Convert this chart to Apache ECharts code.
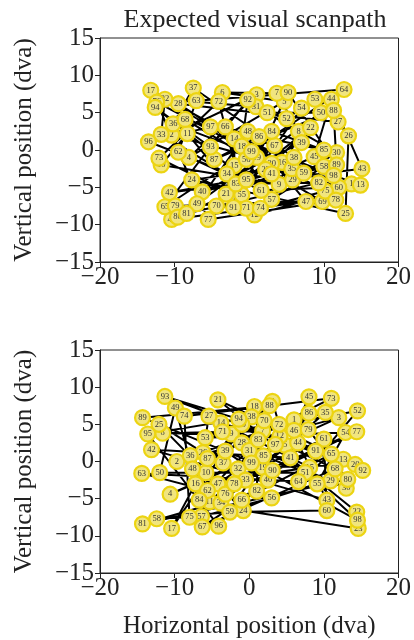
<!DOCTYPE html>
<html>
<head>
<meta charset="utf-8">
<script src="https://cdn.jsdelivr.net/npm/echarts@6/dist/echarts.min.js"></script>
<style>html,body{margin:0;padding:0;background:#fff}#c{width:414px;height:640px}</style>
</head>
<body>
<div id="c"></div>
<script>
// fixation ids (1..99) shared by both panels
const fixationIds = [1,2,3,4,5,6,7,8,9,10,11,12,13,14,15,16,17,18,19,20,21,22,23,24,25,26,27,28,29,30,31,32,33,34,35,36,37,38,39,40,41,42,43,44,45,46,47,48,49,50,51,52,53,54,55,56,57,58,59,60,61,62,63,64,65,66,67,68,69,70,71,72,73,74,75,76,77,78,79,80,81,82,83,84,85,86,87,88,89,90,91,92,93,94,95,96,97,98,99];

// top panel: expected visual scanpath
const topX = [13.7,-10.4,1.0,-8.1,4.7,-3.6,3.7,6.6,4.0,-11.8,-8.3,0.7,14.9,-2.0,-2.0,4.4,-13.2,-1.0,1.0,3.0,-3.1,8.2,2.2,-7.7,12.9,13.3,11.9,-9.5,5.8,11.7,0.9,-11.3,-11.8,-3.0,5.7,-10.2,-7.5,6.0,7.0,-6.3,3.0,-10.7,15.1,11.0,8.7,-10.4,7.6,-0.2,-7.0,9.6,2.4,5.0,8.8,7.0,-1.0,-0.4,3.0,10.0,7.3,12.0,1.6,-9.5,-7.1,12.7,-11.3,-3.2,3.4,-8.6,9.8,-4.4,-0.4,-4.1,-12.1,1.5,10.2,-12.4,-5.5,11.6,-9.9,-9.6,-8.4,9.3,-1.8,3.0,10.0,1.3,-4.7,11.3,11.7,5.2,-2.1,-0.2,-5.2,-12.6,-0.4,-13.5,-5.2,11.3,0.3];
const topY = [-4.55,2.0,7.4,-1.0,6.5,7.7,7.6,2.5,-4.6,-2.0,2.2,-8.7,-4.7,1.5,-2.1,-1.65,8.0,0.5,-1.0,-1.8,-5.9,3.0,-2.6,-4.0,-8.5,1.9,3.75,6.2,-4.0,-0.35,5.8,6.8,2.1,-3.2,-2.5,3.5,8.3,-1.0,1.0,-5.6,-3.2,-5.7,-2.5,6.8,-0.9,-9.3,-6.9,2.5,-7.2,5.0,5.0,4.2,6.8,5.6,-6.0,-1.25,-6.6,-2.2,-3.1,-5.0,-5.4,-0.3,6.6,8.1,-7.6,3.1,0.6,4.1,-6.9,-7.5,-7.8,6.5,-1.1,-7.8,-5.5,6.4,-9.3,-6.7,-7.5,-9.0,-8.5,-4.4,-4.55,2.5,0.0,1.8,-1.25,5.3,-2.0,7.7,-7.7,6.7,0.4,5.7,-4.0,1.1,3.1,-3.4,-0.2];

// bottom panel
const botX = [6.0,-9.7,12.0,-10.6,4.8,3.1,1.8,-11.6,-2.4,-5.8,-5.3,4.1,12.6,-3.8,8.1,-7.2,-10.4,0.7,1.8,14.2,-4.2,14.4,14.6,-0.8,-12.1,-6.2,-5.4,-1.0,10.9,13.0,0.0,-1.5,-0.5,-3.8,10.2,-7.9,-3.5,0.3,-3.2,2.5,5.5,-13.1,10.4,6.5,8.0,6.0,-4.2,-7.6,-9.9,-12.0,7.5,14.5,-5.9,12.9,9.1,3.0,-6.4,-12.4,-2.6,10.4,10.0,-5.6,-14.4,6.6,11.0,-1.0,-6.3,11.5,-1.0,2.0,-3.6,4.0,11.0,-8.7,-8.0,-3.2,14.4,-2.0,7.9,13.2,-14.3,1.0,1.2,-6.7,1.9,8.0,-5.6,2.7,-14.3,3.1,8.9,15.2,-11.3,-1.4,-13.6,-4.1,3.5,14.5,0.3];
const botY = [5.6,0.0,5.9,-4.4,2.2,8.1,4.1,3.8,3.7,-1.5,-5.4,3.4,0.3,5.2,-0.8,-3.0,-9.0,7.4,-0.8,-0.4,8.3,-6.8,-9.0,-6.6,5.0,1.2,6.1,2.5,-2.6,-3.6,1.5,-1.0,-2.5,-5.6,6.6,0.8,-0.2,6.0,1.4,-2.5,0.5,1.6,-5.2,2.5,8.7,4.2,-3.0,-1.0,7.2,-1.5,-1.5,6.8,3.2,3.9,-3.0,-4.9,-7.4,-7.7,-6.8,-6.6,3.0,-3.9,-1.6,-2.7,1.0,-5.2,-8.8,-1.0,5.0,5.5,4.0,5.0,8.5,6.1,-7.5,-4.4,4.0,-3.0,4.3,-2.4,-8.4,-4.0,2.9,-5.2,0.75,6.5,0.4,7.5,5.9,-1.2,1.4,-1.2,8.75,5.7,3.7,-8.7,2.3,-7.9,-0.2];

const xTicks = [-20,-10,0,10,20];
const yTicks = [-15,-10,-5,0,5,10,15];

const SERIF = "'Liberation Serif','DejaVu Serif',serif";
const minus = v => String(v).replace('-', '\u2212');

function pts(xs, ys) { return xs.map((x, i) => [x, ys[i], fixationIds[i]]); }

function renderFix(params, api) {
  const p = api.coord([api.value(0), api.value(1)]);
  return {
    type: 'group',
    children: [
      {type: 'circle', shape: {cx: p[0], cy: p[1], r: 7.5}, style: {fill: '#f1e57e', stroke: '#ecd412', lineWidth: 2.2}},
      {type: 'text', style: {text: String(api.value(2)), x: p[0], y: p[1], align: 'center', verticalAlign: 'middle', fontSize: 8.5, fill: '#333', fontFamily: SERIF}}
    ]
  };
}

function xAxis(gi, name) {
  return {
    gridIndex: gi, type: 'value', min: xTicks[0], max: xTicks[xTicks.length - 1], interval: 10,
    name: name, nameLocation: 'middle', nameGap: 41,
    nameTextStyle: {fontFamily: SERIF, fontSize: 25, color: '#222'},
    axisLine: {show: true, onZero: false, lineStyle: {color: '#222', width: 1}},
    axisTick: {show: true, inside: false, length: 5, lineStyle: {color: '#222'}},
    axisLabel: {fontFamily: SERIF, fontSize: 25, color: '#222', margin: 3, formatter: minus},
    splitLine: {show: false}
  };
}
function yAxis(gi) {
  return {
    gridIndex: gi, type: 'value', min: yTicks[0], max: yTicks[yTicks.length - 1], interval: 5,
    name: 'Vertical position (dva)', nameLocation: 'middle', nameGap: 63,
    nameTextStyle: {fontFamily: SERIF, fontSize: 25, color: '#222'},
    axisLine: {show: true, onZero: false, lineStyle: {color: '#222', width: 1}},
    axisTick: {show: true, inside: false, length: 5, lineStyle: {color: '#222'}},
    axisLabel: {fontFamily: SERIF, fontSize: 25, color: '#222', margin: 6, formatter: minus},
    splitLine: {show: false}
  };
}

const chart = echarts.init(document.getElementById('c'), null, {renderer: 'canvas'});
chart.setOption({
  animation: false,
  backgroundColor: '#fff',
  title: {text: 'Expected visual scanpath', left: 250, top: 2, textAlign: 'center',
    textStyle: {fontFamily: SERIF, fontSize: 26, fontWeight: 'normal', color: '#222'}},
  grid: [
    {left: 100, top: 38, width: 300, height: 224, show: true, borderColor: '#222', borderWidth: 1},
    {left: 100, top: 350, width: 300, height: 225, show: true, borderColor: '#222', borderWidth: 1}
  ],
  xAxis: [xAxis(0, ''), xAxis(1, 'Horizontal position (dva)')],
  yAxis: [yAxis(0), yAxis(1)],
  series: [
    {type: 'line', xAxisIndex: 0, yAxisIndex: 0, data: topX.map((x, i) => [x, topY[i]]), symbol: 'none',
      lineStyle: {color: '#000', width: 2}, z: 1, silent: true},
    {type: 'custom', xAxisIndex: 0, yAxisIndex: 0, data: pts(topX, topY), renderItem: renderFix, encode: {x: 0, y: 1}, z: 2},
    {type: 'line', xAxisIndex: 1, yAxisIndex: 1, data: botX.map((x, i) => [x, botY[i]]), symbol: 'none',
      lineStyle: {color: '#000', width: 2}, z: 1, silent: true},
    {type: 'custom', xAxisIndex: 1, yAxisIndex: 1, data: pts(botX, botY), renderItem: renderFix, encode: {x: 0, y: 1}, z: 2}
  ]
});
</script>
</body>
</html>
